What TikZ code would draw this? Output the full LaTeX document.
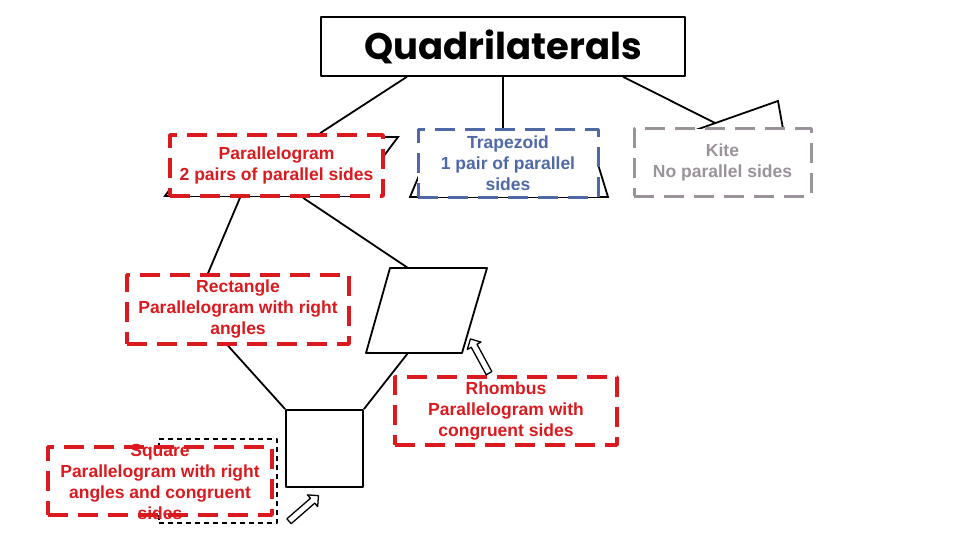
\documentclass[tikz,border=0pt]{standalone}
\usepackage{fontspec}
\setmainfont{Liberation Sans}
\newfontfamily\titlefont{Poppins}
\usetikzlibrary{shapes.arrows,backgrounds}

\definecolor{boxred}{HTML}{DA1A1F}
\definecolor{boxblue}{HTML}{4E69A6}
\definecolor{boxgray}{HTML}{9A939A}

\begin{document}
\begin{tikzpicture}[x=1pt, y=-1pt, line join=round,
    shapeline/.style={line width=1.8pt, black},
    link/.style={line width=1.8pt, black},
    infobox/.style={rectangle, fill=white, line width=3.5pt, dash pattern=on 20pt off 10pt,
        inner sep=0pt, align=center, font=\bfseries\fontsize{17.5}{21}\selectfont},
    redbox/.style={infobox, draw=boxred, text=boxred},
    bluebox/.style={infobox, draw=boxblue, text=boxblue, line width=3pt},
    graybox/.style={infobox, draw=boxgray, text=boxgray, line width=3pt},
    hollowarrow/.style={single arrow, draw, line width=1.3pt, fill=white, minimum height=39pt,
        inner sep=2.6pt, single arrow head extend=4.5pt}
]
    \useasboundingbox (0,0) rectangle (960,540);

    % Title
    \node[draw, line width=1.5pt, minimum width=364pt, minimum height=59pt, inner sep=0pt]
        (title) at (503,46.5) {\titlefont\bfseries\fontsize{37}{42}\selectfont Quadrilaterals};

    % Rhombus and square
    \coordinate (rhtl) at (390,268);
    \coordinate (rhtr) at (487,268);
    \coordinate (rhbr) at (462,353);
    \coordinate (rhbl) at (366,353);
    \draw[shapeline] (rhtl) -- (rhtr) -- (rhbr) -- (rhbl) -- cycle;
    \coordinate (rhtop) at (408,268);
    \coordinate (rhbottom) at (408,353);
    \node[draw, shapeline, minimum size=77pt, inner sep=0pt] (sqshape) at (324.5,448.5) {};

    % Boxes
    \node[redbox, minimum width=213pt, minimum height=61pt] (parbox) at (276.5,165.5)
        {Parallelogram\\2 pairs of parallel sides};
    \node[bluebox, minimum width=180pt, minimum height=67pt] (trapbox) at (508,163.5)
        {Trapezoid\\1 pair of parallel\\sides};
    \node[graybox, minimum width=177pt, minimum height=67pt] (kitebox) at (722.5,162.5)
        {Kite\\No parallel sides};
    \node[redbox, minimum width=222pt, minimum height=69pt] (rectbox) at (238,309.5)
        {Rectangle\\Parallelogram with right\\angles};
    \node[redbox, minimum width=222pt, minimum height=68pt] (rhbox) at (506,411)
        {Rhombus\\Parallelogram with\\congruent sides};

    % Square box (text runs over the border)
    \node[draw, line width=1.3pt, dash pattern=on 5pt off 4pt, minimum width=118pt,
        minimum height=84pt, inner sep=0pt] (sqdash) at (218,481) {};
    \node[redbox, minimum width=224pt, minimum height=68pt] (sqbox) at (160,481) {};
    \node[align=center, text=boxred, font=\bfseries\fontsize{17.5}{21}\selectfont] (sqtext)
        at (160,482) {Square\\Parallelogram with right\\angles and congruent\\sides};

    % Hollow arrows
    \node[hollowarrow, rotate=41] (sqarrow) at (302.5,509.5) {};
    \node[hollowarrow, rotate=118.5] (rharrow) at (480.5,357.5) {};

    \begin{pgfonlayer}{background}
        % Shapes behind the boxes
        \draw[shapeline] (209,137) -- (398,137) -- (354,196) -- (165,196) -- cycle; % parallelogram
        \draw[shapeline] (436,135) -- (589,135) -- (608,197) -- (410,197) -- cycle; % trapezoid
        \draw[shapeline] (778,101) -- (785,140) -- (750,185) -- (690,132) -- cycle; % kite
        \coordinate (kiteedge) at (715,123);

        % Connectors
        \draw[link] ([xshift=-96pt]title.south) -- ([xshift=43.5pt]parbox.north);
        \draw[link] (title.south) -- (title.south |- trapbox.north);
        \draw[link] ([xshift=120pt]title.south) -- (kiteedge);
        \draw[link] ([xshift=-36.5pt]parbox.south) -- ([xshift=-30pt]rectbox.north);
        \draw[link] ([xshift=26.5pt]parbox.south) -- (rhtop);
        \draw[link] ([xshift=-10pt]rectbox.south) -- (sqshape.north west);
        \draw[link] (rhbottom) -- (sqshape.north east);
    \end{pgfonlayer}
\end{tikzpicture}
\end{document}
